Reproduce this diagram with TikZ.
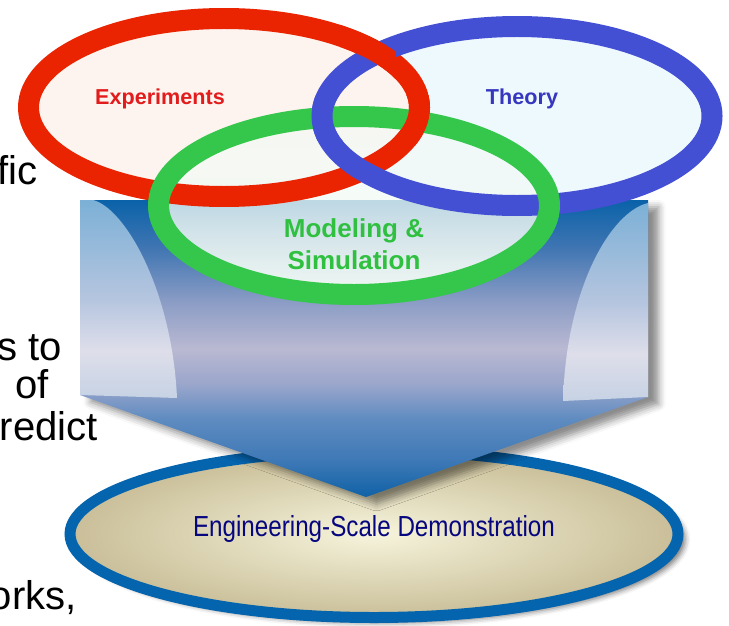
\documentclass[tikz,border=0pt]{standalone}
\usepackage{fontspec}
\setmainfont{Liberation Sans}
\usetikzlibrary{fadings,shadows.blur}

\definecolor{expred}{HTML}{EA2300}
\definecolor{thyblue}{HTML}{4450D4}
\definecolor{modgreen}{HTML}{34C74B}
\definecolor{exptext}{HTML}{E21C1C}
\definecolor{thytext}{HTML}{3636BE}
\definecolor{modtext}{HTML}{2FC040}
\definecolor{redfill}{HTML}{FDF4EF}
\definecolor{bluefill}{HTML}{EEF9FE}
\definecolor{greenfill}{HTML}{F2FAF5}
\definecolor{demoring}{HTML}{0564AE}
\definecolor{demotext}{HTML}{06067F}
\definecolor{beigein}{HTML}{F6F4DC}
\definecolor{beigeout}{HTML}{C9BE98}
\definecolor{ab0}{HTML}{0F62A6}
\definecolor{ab1}{HTML}{3D78B6}
\definecolor{ab2}{HTML}{5E8BC0}
\definecolor{ab3}{HTML}{9AA6CB}
\definecolor{ab4}{HTML}{BAB9D2}
\definecolor{ab5}{HTML}{8A9CC5}
\definecolor{ab6}{HTML}{3F75B2}
\definecolor{ab7}{HTML}{0A62A9}
\definecolor{wp0}{HTML}{C6D2E4}
\definecolor{wp1}{HTML}{DEDEEA}
\definecolor{wp2}{HTML}{B5C5DF}
\definecolor{wp3}{HTML}{7CB0D6}

\pgfdeclareverticalshading{arrowbody}{100bp}{color(0bp)=(ab0); color(25bp)=(ab0);
  color(31bp)=(ab1); color(38bp)=(ab2); color(44bp)=(ab3); color(50bp)=(ab4);
  color(58bp)=(ab5); color(67bp)=(ab6); color(75bp)=(ab7); color(100bp)=(ab7)}
\pgfdeclareverticalshading{wingpanel}{100bp}{color(0bp)=(wp0); color(25bp)=(wp0);
  color(37bp)=(wp1); color(50bp)=(wp2); color(75bp)=(wp3); color(100bp)=(wp3)}
\tikzfading[name=greenfade, top color=transparent!40, bottom color=transparent!3]

\begin{document}
\begin{tikzpicture}[x=0.02cm,y=-0.02cm,
  ring/.style={line width=0.42cm},
  lbl/.style={anchor=base,inner sep=0pt,font=\fontsize{12.3}{14}\selectfont\bfseries},
  mlbl/.style={anchor=base,inner sep=0pt,text=modtext,font=\fontsize{14.8}{17}\selectfont\bfseries},
  frag/.style={anchor=base east,inner sep=0pt,font=\fontsize{22.8}{27}\selectfont}]
\useasboundingbox (0,0) rectangle (729,625);

\node[frag] (w1) at (38,184) {fic};
\node[frag] (w2) at (62,360) {s to};
\node[frag] (w3) at (49,398) {of};
\node[frag] (w4) at (98,440) {redict};
\node[frag] (w5) at (77,609) {orks,};

\shadedraw[draw=demoring,line width=0.22cm,inner color=beigein,outer color=beigeout,
  blur shadow={shadow xshift=4pt,shadow yshift=-3pt,shadow blur radius=3pt,shadow opacity=55}]
  (374,534) ellipse [x radius=304, y radius=83.5];
\node[anchor=base,inner sep=0pt,xscale=0.835,text=demotext,font=\fontsize{16.5}{19}\selectfont]
  (demo) at (374,536) {Engineering-Scale Demonstration};

\shade[shading=arrowbody,
  blur shadow={shadow xshift=6pt,shadow yshift=-4pt,shadow blur radius=4pt,shadow opacity=45}]
  (80,200) -- (648,200) -- (648,397) -- (366,497) -- (80,395) -- cycle;
\shade[shading=wingpanel] (80,200) -- (93,200) .. controls (125,208) and (172,290) .. (177,398) -- (80,395) -- cycle;
\shade[shading=wingpanel] (648,203) .. controls (610,212) and (566,290) .. (563,401) -- (648,397) -- cycle;

\fill[bluefill] (517,116) ellipse [x radius=195, y radius=89.5];
\fill[redfill] (224,107.5) ellipse [x radius=195.5, y radius=89];
\fill[greenfill,path fading=greenfade] (354,205.5) ellipse [x radius=195.5, y radius=89];

\draw[ring,expred] (224,107.5) ellipse [x radius=195.5, y radius=89];
\draw[ring,thyblue] (517,116) ellipse [x radius=195, y radius=89.5];
\draw[ring,modgreen] (354,205.5) ellipse [x radius=195.5, y radius=89];
\begin{scope}
\clip (300,95) rectangle (345,140);
\draw[ring,thyblue] (517,116) ellipse [x radius=195, y radius=89.5];
\end{scope}
\begin{scope}
\clip (395,95) rectangle (445,145);
\draw[ring,expred] (224,107.5) ellipse [x radius=195.5, y radius=89];
\end{scope}
\begin{scope}
\clip (340,25) rectangle (395,80);
\draw[ring,expred] (224,107.5) ellipse [x radius=195.5, y radius=89];
\end{scope}

\node[lbl,text=exptext] (exp) at (160,104) {Experiments};
\node[lbl,text=thytext] (thy) at (522,104) {Theory};
\node[mlbl] (mod1) at (354,237) {Modeling \&};
\node[mlbl] (mod2) at (354,269) {Simulation};
\end{tikzpicture}
\end{document}
